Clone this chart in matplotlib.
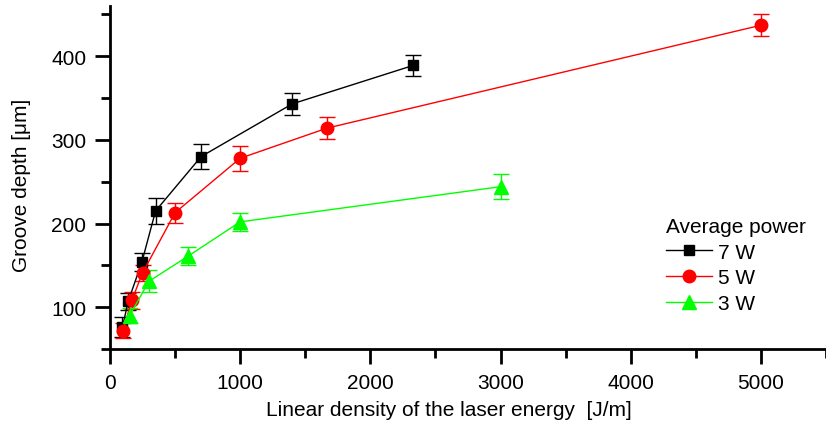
import numpy as np
import matplotlib
matplotlib.use('Agg')
from matplotlib import pyplot as plt
from matplotlib.ticker import MultipleLocator
from matplotlib.lines import Line2D

plt.rcParams['font.family'] = ['Liberation Sans', 'DejaVu Sans']

# 7 W
x7 = [95, 140, 245, 350, 700, 1400, 2330]
y7 = [76, 107, 154, 215, 280, 343, 389]
e7 = [12, 10, 11, 16, 15, 13, 13]
# 5 W
x5 = [100, 167, 250, 500, 1000, 1667, 5000]
y5 = [72, 108, 141, 213, 278, 314, 437]
e5 = [9, 10, 10, 12, 15, 13, 13]
# 3 W
x3 = [150, 300, 600, 1000, 3000]
y3 = [90, 131, 161, 202, 244]
e3 = [9, 13, 11, 11, 15]

labels = ['7 W', '5 W', '3 W']

fig = plt.figure(figsize=(8.26, 4.27), dpi=100)
ax = fig.add_axes([110 / 826, 77 / 427, 716 / 826, 343 / 427])

series = [(x7, y7, e7, 'black', 's', 7.5),
          (x5, y5, e5, 'red', 'o', 9),
          (x3, y3, e3, '#00ff00', '^', 9.5)]
handles = []
for (x, y, e, c, m, ms), lab in zip(series, labels):
    ax.errorbar(x, y, yerr=e, color=c, marker=m, markersize=ms, lw=1,
                elinewidth=1, capsize=6, capthick=1)
    handles.append(Line2D([], [], color=c, marker=m, markersize=ms, lw=1, label=lab))

ax.set_xlim(0, 5500)
ax.set_ylim(50, 460)
ax.xaxis.set_major_locator(MultipleLocator(1000))
ax.xaxis.set_minor_locator(MultipleLocator(500))
ax.yaxis.set_minor_locator(MultipleLocator(50))
ax.set_yticks([100, 200, 300, 400])
ax.tick_params(which='major', direction='out', length=11, width=2, labelsize=15, pad=6)
ax.tick_params(which='minor', direction='out', length=6.5, width=2)
for s in ['top', 'right']:
    ax.spines[s].set_visible(False)
for s in ['left', 'bottom']:
    ax.spines[s].set_linewidth(2)

ax.set_xlabel('Linear density of the laser energy  [J/m]', fontsize=15)
ax.xaxis.set_label_coords(0.473, -0.148)
ax.set_ylabel('Groove depth [\u03bcm]', fontsize=15)
ax.yaxis.set_label_coords(-0.11, 0.48)

leg = ax.legend(handles=handles, title='Average power', loc='upper left',
                bbox_to_anchor=(0.777, 0.385), frameon=False, fontsize=15,
                title_fontsize=15, handlelength=2.2, handletextpad=0.3,
                labelspacing=0.32, alignment='left', borderpad=0, borderaxespad=0)

plt.savefig('out.png', dpi=100)
